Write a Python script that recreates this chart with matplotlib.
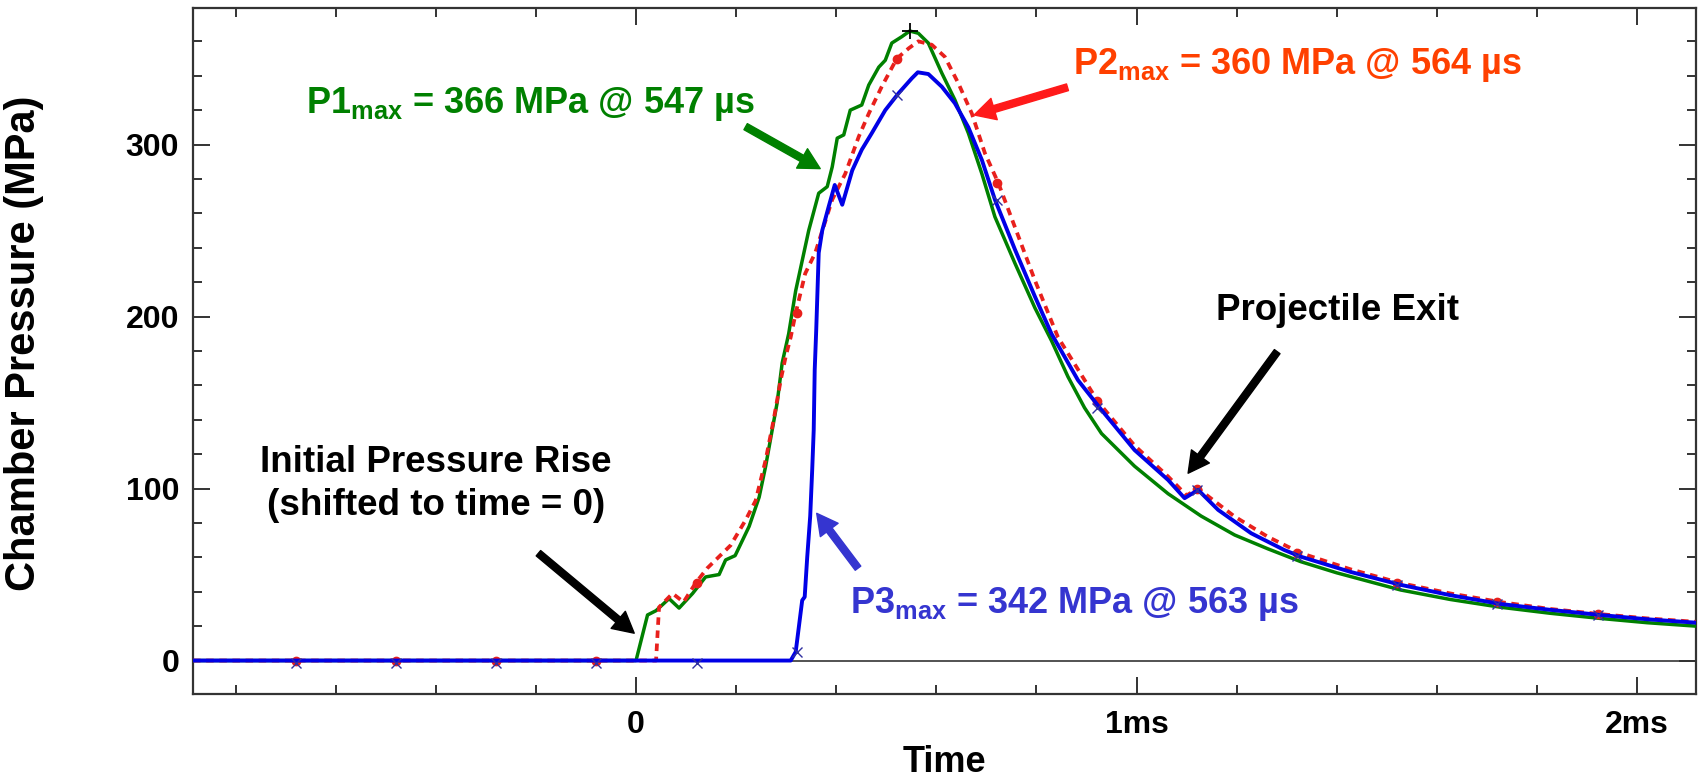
import matplotlib
matplotlib.use("Agg")
import matplotlib.pyplot as plt
from matplotlib.ticker import FixedLocator, MultipleLocator
import numpy as np

# Time in ms, pressure in MPa
P1_T = [-0.885, 0.0, 0.023, 0.040, 0.066, 0.086, 0.113, 0.139, 0.166, 0.179, 0.198,
        0.226, 0.246, 0.259, 0.272, 0.282, 0.292, 0.305, 0.319, 0.345, 0.365, 0.382,
        0.392, 0.402, 0.415, 0.428, 0.451, 0.465, 0.485, 0.498, 0.511, 0.531, 0.547,
        0.564, 0.584, 0.611, 0.637, 0.664, 0.691, 0.717, 0.757, 0.797, 0.830, 0.863,
        0.896, 0.930, 0.996, 1.063, 1.129, 1.196, 1.262, 1.328, 1.400, 1.528, 1.627,
        1.727, 1.826, 1.926, 2.020, 2.118]
P1_P = [0, 0, 26.5, 29, 36, 30.5, 39, 48.6, 50, 58.5, 61,
        78, 95, 113, 134, 150, 173, 190, 215, 250, 271.7, 275.5,
        287, 303.7, 305.6, 320, 323, 334.6, 345, 349, 359, 362.7, 366,
        364.7, 359, 341.5, 326, 306.6, 283, 258, 231, 205, 186, 165,
        147, 132, 113, 97, 84, 73, 65, 57.5, 51, 41, 35.5,
        31, 27.5, 24.5, 22, 20]

P2_T = [-0.885, 0.040, 0.046, 0.073, 0.095, 0.119, 0.142, 0.189, 0.219, 0.239, 0.259,
        0.275, 0.289, 0.299, 0.309, 0.319, 0.338, 0.358, 0.392, 0.418, 0.445, 0.465,
        0.491, 0.521, 0.545, 0.564, 0.591, 0.617, 0.644, 0.671, 0.697, 0.724, 0.757,
        0.797, 0.843, 0.923, 0.996, 1.063, 1.100, 1.123, 1.196, 1.262, 1.328, 1.428,
        1.528, 1.627, 1.727, 1.826, 1.926, 2.020, 2.118]
P2_P = [0, 0, 31, 39, 34, 45, 53.6, 67, 81.7, 93, 116.6,
        140, 163, 176.7, 188, 202, 225, 237, 268, 283, 304.6, 318,
        333.7, 350, 356, 360, 358, 351, 335.6, 318, 295, 277.5, 252,
        221, 188, 150.5, 125, 107, 96, 100, 83.7, 72, 62.5, 53,
        45, 39, 34, 30, 27, 24.5, 22.5]

P3_T = [-0.885, 0.309, 0.319, 0.332, 0.337, 0.342, 0.348, 0.352, 0.355, 0.357, 0.360,
        0.365, 0.372, 0.385, 0.397, 0.412, 0.432, 0.451, 0.471, 0.498, 0.525, 0.551,
        0.563, 0.584, 0.611, 0.637, 0.664, 0.691, 0.717, 0.757, 0.797, 0.830, 0.883,
        0.930, 0.996, 1.063, 1.096, 1.123, 1.163, 1.229, 1.295, 1.328, 1.428, 1.528,
        1.627, 1.727, 1.826, 1.926, 2.020, 2.118]
P3_P = [0, 0, 5, 35, 37, 60, 84, 111, 134, 169, 192,
        237, 250, 264, 276.5, 265, 285, 297, 306.6, 320, 330, 338.5,
        342, 341, 333.6, 324, 310, 291, 268, 239, 211.6, 190, 163,
        145.7, 122.4, 105, 94.4, 99.2, 87.6, 74, 64.3, 60.4, 51.5, 44,
        38, 32.9, 29.5, 26.5, 24, 22]

# Sparse symbols on the traces (every 0.2 ms)
MARK_T = [-0.679, -0.479, -0.279, -0.079, 0.121, 0.321, 0.521, 0.721, 0.921,
          1.121, 1.321, 1.521, 1.721, 1.921]
P2_MARK = [0, 0, 0, 0, 45, 202, 350, 277.5, 151, 100, 62.5, 45, 34, 27]
P3_MARK = [-1.5, -1.5, -1.5, -1.5, -1.5, 5, 329, 268, 147, 99, 61, 44, 33, 26.5]

X_TICKS = [0, 1, 2]
X_TICK_LABELS = ["0", "1ms", "2ms"]
Y_TICKS = [0, 100, 200, 300]

GREEN = "#008000"
RED = "#e8201c"
BLUE = "#0000e6"


def main():
    plt.rcParams["font.family"] = "Liberation Sans"
    plt.rcParams["font.weight"] = "bold"
    plt.rcParams["mathtext.fontset"] = "custom"
    plt.rcParams["mathtext.rm"] = "Liberation Sans:bold"
    plt.rcParams["mathtext.it"] = "Liberation Sans:bold"
    plt.rcParams["mathtext.bf"] = "Liberation Sans:bold"

    fig = plt.figure(figsize=(16.98, 7.82), dpi=100)
    ax = fig.add_axes([0.1137, 0.1122, 0.8852, 0.8776])

    ax.axhline(0, color="#444444", lw=1.3, zorder=1)

    ax.plot(P1_T, P1_P, color=GREEN, lw=2.5, zorder=3)
    ax.plot(P2_T, P2_P, color=RED, lw=2.7, ls=(0, (2.0, 1.5)), zorder=4)
    ax.plot(P3_T, P3_P, color=BLUE, lw=2.8, zorder=5)

    ax.plot(MARK_T, P2_MARK, ls="none", marker="o", ms=6, color=RED, zorder=4)
    ax.plot(MARK_T, P3_MARK, ls="none", marker="x", ms=7, mew=1, color="#3030a0", zorder=6)

    # peak cursor on P1
    i_max = int(np.argmax(P1_P))
    ax.plot(P1_T[i_max], P1_P[i_max], marker="+", ms=12, mew=1.3, color="black", zorder=7)

    ax.set_xlim(-0.885, 2.118)
    ax.set_ylim(-19.6, 379.4)

    ax.xaxis.set_major_locator(FixedLocator(X_TICKS))
    ax.set_xticklabels(X_TICK_LABELS)
    ax.xaxis.set_minor_locator(MultipleLocator(0.2))
    ax.yaxis.set_major_locator(FixedLocator(Y_TICKS))
    ax.yaxis.set_minor_locator(MultipleLocator(20))

    ax.tick_params(which="both", direction="in", top=True, right=True,
                   width=1.4, color="#333333")
    ax.tick_params(which="major", length=12, labelsize=23)
    ax.tick_params(which="minor", length=6.5)
    ax.tick_params(axis="y", which="major", pad=10)
    ax.tick_params(axis="x", which="major", pad=11)
    for spine in ax.spines.values():
        spine.set_linewidth(1.6)
        spine.set_color("#333333")

    ax.set_xlabel("Time", fontsize=26, fontweight="bold", labelpad=4)
    ax.set_ylabel("Chamber Pressure (MPa)", fontsize=30, fontweight="bold")
    ax.yaxis.set_label_coords(-0.099, 0.512)

    # --- annotations --- #
    arrow = dict(width=5, headwidth=16, headlength=15, shrink=0)

    ax.text(-0.659, 318.2, r"P1$_{\mathrm{max}}$ = 366 MPa @ 547 µs", color=GREEN,
            fontsize=26, fontweight="bold", va="baseline", ha="left")
    ax.annotate("", xy=(0.368, 286), xytext=(0.219, 310.4),
                arrowprops=dict(facecolor=GREEN, edgecolor=GREEN, **arrow))

    ax.text(0.8734, 340.9, r"P2$_{\mathrm{max}}$ = 360 MPa @ 564 µs", color="#ff4000",
            fontsize=26, fontweight="bold", va="baseline", ha="left")
    ax.annotate("", xy=(0.6755, 317.2), xytext=(0.862, 333.3),
                arrowprops=dict(facecolor="#ff1a1a", edgecolor="#ff1a1a", **arrow))

    ax.text(0.427, 27.8, r"P3$_{\mathrm{max}}$ = 342 MPa @ 563 µs", color="#3535d0",
            fontsize=26, fontweight="bold", va="baseline", ha="left")
    ax.annotate("", xy=(0.361, 85.6), xytext=(0.4435, 53.7),
                arrowprops=dict(facecolor="#3535d0", edgecolor="#3535d0", **arrow))

    ax.text(-0.3996, 109.8, "Initial Pressure Rise", color="black",
            fontsize=26.5, fontweight="bold", va="baseline", ha="center")
    ax.text(-0.3996, 84.7, "(shifted to time = 0)", color="black",
            fontsize=26.5, fontweight="bold", va="baseline", ha="center")
    ax.annotate("", xy=(-0.0036, 15.9), xytext=(-0.195, 62.4),
                arrowprops=dict(facecolor="black", edgecolor="black", **arrow))

    ax.text(1.402, 198, "Projectile Exit", color="black",
            fontsize=26.5, fontweight="bold", va="baseline", ha="center")
    ax.annotate("", xy=(1.103, 108.9), xytext=(1.281, 179.6),
                arrowprops=dict(facecolor="black", edgecolor="black", **arrow))

    fig.savefig("out.png", dpi=100)


if __name__ == "__main__":
    main()
